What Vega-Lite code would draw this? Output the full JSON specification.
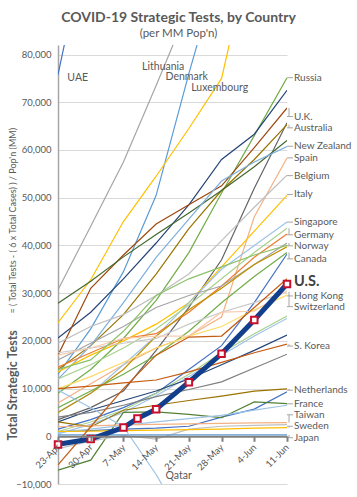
{
"$schema": "https://vega.github.io/schema/vega-lite/v6.json",
"width": 229, "height": 439,
"autosize": "none",
"padding": {"left": 58, "top": 45, "right": 70, "bottom": 13},
"background": "white",
"config": {"font": "Lato", "view": {"stroke": null}},
"title": {"text": "COVID-19 Strategic Tests, by Country", "subtitle": "(per MM Pop'n)", "fontSize": 14, "fontWeight": "bold", "color": "#595959", "subtitleFontSize": 11.5, "subtitleColor": "#595959", "subtitlePadding": 3, "anchor": "middle", "dx": 6, "offset": 6, "frame": "group"},
"datasets": {
"lines": [
{"c":"UAE","d":"2020-04-23","v":75800},{"c":"UAE","d":"2020-04-30","v":108000},{"c":"UAE","d":"2020-05-07","v":140000},{"c":"UAE","d":"2020-05-14","v":170000},{"c":"UAE","d":"2020-05-21","v":200000},{"c":"UAE","d":"2020-05-28","v":230000},{"c":"UAE","d":"2020-06-04","v":260000},{"c":"UAE","d":"2020-06-11","v":290000},
{"c":"Lithuania","d":"2020-04-23","v":30700},{"c":"Lithuania","d":"2020-04-30","v":44000},{"c":"Lithuania","d":"2020-05-07","v":57500},{"c":"Lithuania","d":"2020-05-14","v":73500},{"c":"Lithuania","d":"2020-05-21","v":90000},{"c":"Lithuania","d":"2020-05-28","v":105000},{"c":"Lithuania","d":"2020-06-04","v":120000},{"c":"Lithuania","d":"2020-06-11","v":135000},
{"c":"Denmark","d":"2020-04-23","v":13000},{"c":"Denmark","d":"2020-04-30","v":22500},{"c":"Denmark","d":"2020-05-07","v":34500},{"c":"Denmark","d":"2020-05-14","v":50500},{"c":"Denmark","d":"2020-05-21","v":76000},{"c":"Denmark","d":"2020-05-28","v":100000},{"c":"Denmark","d":"2020-06-04","v":125000},{"c":"Denmark","d":"2020-06-11","v":150000},
{"c":"Luxembourg","d":"2020-04-23","v":23800},{"c":"Luxembourg","d":"2020-04-30","v":32800},{"c":"Luxembourg","d":"2020-05-07","v":45000},{"c":"Luxembourg","d":"2020-05-14","v":54500},{"c":"Luxembourg","d":"2020-05-21","v":64500},{"c":"Luxembourg","d":"2020-05-28","v":75000},{"c":"Luxembourg","d":"2020-06-04","v":105000},{"c":"Luxembourg","d":"2020-06-11","v":130000},
{"c":"Russia","d":"2020-04-23","v":9000},{"c":"Russia","d":"2020-04-30","v":14000},{"c":"Russia","d":"2020-05-07","v":20500},{"c":"Russia","d":"2020-05-14","v":28500},{"c":"Russia","d":"2020-05-21","v":38500},{"c":"Russia","d":"2020-05-28","v":51000},{"c":"Russia","d":"2020-06-04","v":63000},{"c":"Russia","d":"2020-06-11","v":75150},
{"c":"L06","d":"2020-04-23","v":20600},{"c":"L06","d":"2020-04-30","v":26000},{"c":"L06","d":"2020-05-07","v":33000},{"c":"L06","d":"2020-05-14","v":40500},{"c":"L06","d":"2020-05-21","v":48500},{"c":"L06","d":"2020-05-28","v":58000},{"c":"L06","d":"2020-06-04","v":63300},{"c":"L06","d":"2020-06-11","v":72500},
{"c":"U.K.","d":"2020-04-23","v":17000},{"c":"U.K.","d":"2020-04-30","v":31000},{"c":"U.K.","d":"2020-05-07","v":38000},{"c":"U.K.","d":"2020-05-14","v":44500},{"c":"U.K.","d":"2020-05-21","v":48500},{"c":"U.K.","d":"2020-05-28","v":52500},{"c":"U.K.","d":"2020-06-04","v":60500},{"c":"U.K.","d":"2020-06-11","v":68800},
{"c":"L08","d":"2020-04-23","v":3500},{"c":"L08","d":"2020-04-30","v":6000},{"c":"L08","d":"2020-05-07","v":9500},{"c":"L08","d":"2020-05-14","v":18000},{"c":"L08","d":"2020-05-21","v":27000},{"c":"L08","d":"2020-05-28","v":37000},{"c":"L08","d":"2020-06-04","v":52000},{"c":"L08","d":"2020-06-11","v":65700},
{"c":"Australia","d":"2020-04-23","v":14000},{"c":"Australia","d":"2020-04-30","v":19000},{"c":"Australia","d":"2020-05-07","v":25500},{"c":"Australia","d":"2020-05-14","v":34000},{"c":"Australia","d":"2020-05-21","v":43500},{"c":"Australia","d":"2020-05-28","v":51500},{"c":"Australia","d":"2020-06-04","v":58000},{"c":"Australia","d":"2020-06-11","v":65300},
{"c":"L10","d":"2020-04-23","v":27900},{"c":"L10","d":"2020-04-30","v":32500},{"c":"L10","d":"2020-05-07","v":37600},{"c":"L10","d":"2020-05-14","v":42300},{"c":"L10","d":"2020-05-21","v":46800},{"c":"L10","d":"2020-05-28","v":51500},{"c":"L10","d":"2020-06-04","v":56500},{"c":"L10","d":"2020-06-11","v":62000},
{"c":"New Zealand","d":"2020-04-23","v":12000},{"c":"New Zealand","d":"2020-04-30","v":19000},{"c":"New Zealand","d":"2020-05-07","v":28000},{"c":"New Zealand","d":"2020-05-14","v":37500},{"c":"New Zealand","d":"2020-05-21","v":45500},{"c":"New Zealand","d":"2020-05-28","v":53500},{"c":"New Zealand","d":"2020-06-04","v":57500},{"c":"New Zealand","d":"2020-06-11","v":60700},
{"c":"Spain","d":"2020-04-23","v":7000},{"c":"Spain","d":"2020-04-30","v":11000},{"c":"Spain","d":"2020-05-07","v":15000},{"c":"Spain","d":"2020-05-14","v":18500},{"c":"Spain","d":"2020-05-21","v":21000},{"c":"Spain","d":"2020-05-28","v":25000},{"c":"Spain","d":"2020-06-04","v":46000},{"c":"Spain","d":"2020-06-11","v":58300},
{"c":"Belgium","d":"2020-04-23","v":19500},{"c":"Belgium","d":"2020-04-30","v":23000},{"c":"Belgium","d":"2020-05-07","v":25500},{"c":"Belgium","d":"2020-05-14","v":29500},{"c":"Belgium","d":"2020-05-21","v":34000},{"c":"Belgium","d":"2020-05-28","v":41000},{"c":"Belgium","d":"2020-06-04","v":48000},{"c":"Belgium","d":"2020-06-11","v":54700},
{"c":"Italy","d":"2020-04-23","v":13500},{"c":"Italy","d":"2020-04-30","v":17000},{"c":"Italy","d":"2020-05-07","v":20000},{"c":"Italy","d":"2020-05-14","v":23500},{"c":"Italy","d":"2020-05-21","v":28000},{"c":"Italy","d":"2020-05-28","v":35500},{"c":"Italy","d":"2020-06-04","v":43000},{"c":"Italy","d":"2020-06-11","v":50500},
{"c":"Singapore","d":"2020-04-23","v":5000},{"c":"Singapore","d":"2020-04-30","v":9000},{"c":"Singapore","d":"2020-05-07","v":15000},{"c":"Singapore","d":"2020-05-14","v":21000},{"c":"Singapore","d":"2020-05-21","v":28000},{"c":"Singapore","d":"2020-05-28","v":35000},{"c":"Singapore","d":"2020-06-04","v":40000},{"c":"Singapore","d":"2020-06-11","v":44900},
{"c":"Germany","d":"2020-04-23","v":12000},{"c":"Germany","d":"2020-04-30","v":15000},{"c":"Germany","d":"2020-05-07","v":18500},{"c":"Germany","d":"2020-05-14","v":22500},{"c":"Germany","d":"2020-05-21","v":27500},{"c":"Germany","d":"2020-05-28","v":33000},{"c":"Germany","d":"2020-06-04","v":38500},{"c":"Germany","d":"2020-06-11","v":43600},
{"c":"L17","d":"2020-04-23","v":14500},{"c":"L17","d":"2020-04-30","v":17500},{"c":"L17","d":"2020-05-07","v":20500},{"c":"L17","d":"2020-05-14","v":21500},{"c":"L17","d":"2020-05-21","v":26000},{"c":"L17","d":"2020-05-28","v":31500},{"c":"L17","d":"2020-06-04","v":37500},{"c":"L17","d":"2020-06-11","v":42400},
{"c":"Norway","d":"2020-04-23","v":16000},{"c":"Norway","d":"2020-04-30","v":19500},{"c":"Norway","d":"2020-05-07","v":23000},{"c":"Norway","d":"2020-05-14","v":27000},{"c":"Norway","d":"2020-05-21","v":29500},{"c":"Norway","d":"2020-05-28","v":31500},{"c":"Norway","d":"2020-06-04","v":36000},{"c":"Norway","d":"2020-06-11","v":40500},
{"c":"L19","d":"2020-04-23","v":5000},{"c":"L19","d":"2020-04-30","v":9000},{"c":"L19","d":"2020-05-07","v":14000},{"c":"L19","d":"2020-05-14","v":21000},{"c":"L19","d":"2020-05-21","v":26500},{"c":"L19","d":"2020-05-28","v":31000},{"c":"L19","d":"2020-06-04","v":36000},{"c":"L19","d":"2020-06-11","v":39700},
{"c":"Canada","d":"2020-04-23","v":6000},{"c":"Canada","d":"2020-04-30","v":9500},{"c":"Canada","d":"2020-05-07","v":13000},{"c":"Canada","d":"2020-05-14","v":17000},{"c":"Canada","d":"2020-05-21","v":22000},{"c":"Canada","d":"2020-05-28","v":28000},{"c":"Canada","d":"2020-06-04","v":33500},{"c":"Canada","d":"2020-06-11","v":38500},
{"c":"L21","d":"2020-04-23","v":1500},{"c":"L21","d":"2020-04-30","v":3500},{"c":"L21","d":"2020-05-07","v":6000},{"c":"L21","d":"2020-05-14","v":9000},{"c":"L21","d":"2020-05-21","v":14000},{"c":"L21","d":"2020-05-28","v":19000},{"c":"L21","d":"2020-06-04","v":28000},{"c":"L21","d":"2020-06-11","v":38200},
{"c":"Hong Kong","d":"2020-04-23","v":17500},{"c":"Hong Kong","d":"2020-04-30","v":18500},{"c":"Hong Kong","d":"2020-05-07","v":19500},{"c":"Hong Kong","d":"2020-05-14","v":20500},{"c":"Hong Kong","d":"2020-05-21","v":23500},{"c":"Hong Kong","d":"2020-05-28","v":26000},{"c":"Hong Kong","d":"2020-06-04","v":28000},{"c":"Hong Kong","d":"2020-06-11","v":30300},
{"c":"Switzerland","d":"2020-04-23","v":10000},{"c":"Switzerland","d":"2020-04-30","v":12500},{"c":"Switzerland","d":"2020-05-07","v":15500},{"c":"Switzerland","d":"2020-05-14","v":18500},{"c":"Switzerland","d":"2020-05-21","v":21000},{"c":"Switzerland","d":"2020-05-28","v":23000},{"c":"Switzerland","d":"2020-06-04","v":26500},{"c":"Switzerland","d":"2020-06-11","v":29600},
{"c":"L24","d":"2020-04-23","v":17000},{"c":"L24","d":"2020-04-30","v":18500},{"c":"L24","d":"2020-05-07","v":20500},{"c":"L24","d":"2020-05-14","v":21000},{"c":"L24","d":"2020-05-21","v":21000},{"c":"L24","d":"2020-05-28","v":26000},{"c":"L24","d":"2020-06-04","v":26200},{"c":"L24","d":"2020-06-11","v":30500},
{"c":"L25","d":"2020-04-23","v":1000},{"c":"L25","d":"2020-04-30","v":3000},{"c":"L25","d":"2020-05-07","v":5500},{"c":"L25","d":"2020-05-14","v":9000},{"c":"L25","d":"2020-05-21","v":13000},{"c":"L25","d":"2020-05-28","v":17500},{"c":"L25","d":"2020-06-04","v":21500},{"c":"L25","d":"2020-06-11","v":25200},
{"c":"L26","d":"2020-04-23","v":500},{"c":"L26","d":"2020-04-30","v":2500},{"c":"L26","d":"2020-05-07","v":5000},{"c":"L26","d":"2020-05-14","v":8500},{"c":"L26","d":"2020-05-21","v":12500},{"c":"L26","d":"2020-05-28","v":17000},{"c":"L26","d":"2020-06-04","v":21000},{"c":"L26","d":"2020-06-11","v":24700},
{"c":"L27","d":"2020-04-23","v":3000},{"c":"L27","d":"2020-04-30","v":5500},{"c":"L27","d":"2020-05-07","v":7500},{"c":"L27","d":"2020-05-14","v":9500},{"c":"L27","d":"2020-05-21","v":12000},{"c":"L27","d":"2020-05-28","v":15000},{"c":"L27","d":"2020-06-04","v":18000},{"c":"L27","d":"2020-06-11","v":21200},
{"c":"S. Korea","d":"2020-04-23","v":10000},{"c":"S. Korea","d":"2020-04-30","v":10500},{"c":"S. Korea","d":"2020-05-07","v":11200},{"c":"S. Korea","d":"2020-05-14","v":11800},{"c":"S. Korea","d":"2020-05-21","v":13500},{"c":"S. Korea","d":"2020-05-28","v":15500},{"c":"S. Korea","d":"2020-06-04","v":17500},{"c":"S. Korea","d":"2020-06-11","v":19300},
{"c":"L29","d":"2020-04-23","v":4000},{"c":"L29","d":"2020-04-30","v":5000},{"c":"L29","d":"2020-05-07","v":6500},{"c":"L29","d":"2020-05-14","v":8300},{"c":"L29","d":"2020-05-21","v":9800},{"c":"L29","d":"2020-05-28","v":11400},{"c":"L29","d":"2020-06-04","v":14300},{"c":"L29","d":"2020-06-11","v":17200},
{"c":"Netherlands","d":"2020-04-23","v":3000},{"c":"Netherlands","d":"2020-04-30","v":1960},{"c":"Netherlands","d":"2020-05-07","v":5460},{"c":"Netherlands","d":"2020-05-14","v":6500},{"c":"Netherlands","d":"2020-05-21","v":7500},{"c":"Netherlands","d":"2020-05-28","v":8400},{"c":"Netherlands","d":"2020-06-04","v":9450},{"c":"Netherlands","d":"2020-06-11","v":9940},
{"c":"L31","d":"2020-04-23","v":1000},{"c":"L31","d":"2020-04-30","v":1200},{"c":"L31","d":"2020-05-07","v":1500},{"c":"L31","d":"2020-05-14","v":1700},{"c":"L31","d":"2020-05-21","v":2100},{"c":"L31","d":"2020-05-28","v":4000},{"c":"L31","d":"2020-06-04","v":5700},{"c":"L31","d":"2020-06-11","v":9300},
{"c":"France","d":"2020-04-23","v":-7100},{"c":"France","d":"2020-04-30","v":-5000},{"c":"France","d":"2020-05-07","v":5000},{"c":"France","d":"2020-05-14","v":5100},{"c":"France","d":"2020-05-21","v":4600},{"c":"France","d":"2020-05-28","v":3900},{"c":"France","d":"2020-06-04","v":7200},{"c":"France","d":"2020-06-11","v":6850},
{"c":"L33","d":"2020-04-23","v":800},{"c":"L33","d":"2020-04-30","v":1500},{"c":"L33","d":"2020-05-07","v":2300},{"c":"L33","d":"2020-05-14","v":3000},{"c":"L33","d":"2020-05-21","v":3700},{"c":"L33","d":"2020-05-28","v":4400},{"c":"L33","d":"2020-06-04","v":5500},{"c":"L33","d":"2020-06-11","v":6500},
{"c":"Taiwan","d":"2020-04-23","v":2000},{"c":"Taiwan","d":"2020-04-30","v":2200},{"c":"Taiwan","d":"2020-05-07","v":2400},{"c":"Taiwan","d":"2020-05-14","v":2500},{"c":"Taiwan","d":"2020-05-21","v":2600},{"c":"Taiwan","d":"2020-05-28","v":2700},{"c":"Taiwan","d":"2020-06-04","v":2800},{"c":"Taiwan","d":"2020-06-11","v":2870},
{"c":"L35","d":"2020-04-23","v":-2600},{"c":"L35","d":"2020-04-30","v":-1000},{"c":"L35","d":"2020-05-07","v":200},{"c":"L35","d":"2020-05-14","v":-600},{"c":"L35","d":"2020-05-21","v":1500},{"c":"L35","d":"2020-05-28","v":2100},{"c":"L35","d":"2020-06-04","v":2300},{"c":"L35","d":"2020-06-11","v":2450},
{"c":"Sweden","d":"2020-04-23","v":1000},{"c":"Sweden","d":"2020-04-30","v":1100},{"c":"Sweden","d":"2020-05-07","v":1200},{"c":"Sweden","d":"2020-05-14","v":1300},{"c":"Sweden","d":"2020-05-21","v":1400},{"c":"Sweden","d":"2020-05-28","v":1500},{"c":"Sweden","d":"2020-06-04","v":1700},{"c":"Sweden","d":"2020-06-11","v":1830},
{"c":"Japan","d":"2020-04-23","v":300},{"c":"Japan","d":"2020-04-30","v":300},{"c":"Japan","d":"2020-05-07","v":300},{"c":"Japan","d":"2020-05-14","v":300},{"c":"Japan","d":"2020-05-21","v":300},{"c":"Japan","d":"2020-05-28","v":300},{"c":"Japan","d":"2020-06-04","v":300},{"c":"Japan","d":"2020-06-11","v":300},
{"c":"Qatar","d":"2020-04-23","v":9700},{"c":"Qatar","d":"2020-04-30","v":6000},{"c":"Qatar","d":"2020-05-07","v":2000},{"c":"Qatar","d":"2020-05-14","v":-8000},{"c":"Qatar","d":"2020-05-21","v":-20000},{"c":"Qatar","d":"2020-05-28","v":-30000},{"c":"Qatar","d":"2020-06-04","v":-40000},{"c":"Qatar","d":"2020-06-11","v":-50000},
{"c":"L39","d":"2020-04-23","v":-6000},{"c":"L39","d":"2020-04-30","v":2000},{"c":"L39","d":"2020-05-07","v":10000},{"c":"L39","d":"2020-05-14","v":17000},{"c":"L39","d":"2020-05-21","v":20800},{"c":"L39","d":"2020-05-28","v":21000},{"c":"L39","d":"2020-06-04","v":27000},{"c":"L39","d":"2020-06-11","v":33000},
{"c":"L40","d":"2020-04-23","v":14000},{"c":"L40","d":"2020-04-30","v":16000},{"c":"L40","d":"2020-05-07","v":22000},{"c":"L40","d":"2020-05-14","v":29500},{"c":"L40","d":"2020-05-21","v":33000},{"c":"L40","d":"2020-05-28","v":35500},{"c":"L40","d":"2020-06-04","v":38000},{"c":"L40","d":"2020-06-11","v":40000}
],
"us": [
{"d":"2020-04-23","v":-1700},{"d":"2020-04-30","v":-570},{"d":"2020-05-07","v":1830},{"d":"2020-05-10","v":3720},{"d":"2020-05-14","v":5670},{"d":"2020-05-21","v":11340},{"d":"2020-05-28","v":17290},{"d":"2020-06-04","v":24370},{"d":"2020-06-11","v":31930}
],
"labels": [
{"t":"Russia","d":"2020-06-11","e":75150,"l":75150},
{"t":"U.K.","d":"2020-06-11","e":68800,"l":67000},
{"t":"Australia","d":"2020-06-11","e":65300,"l":64640},
{"t":"New Zealand","d":"2020-06-11","e":60700,"l":60780},
{"t":"Spain","d":"2020-06-11","e":58300,"l":58340},
{"t":"Belgium","d":"2020-06-11","e":54700,"l":54620},
{"t":"Italy","d":"2020-06-11","e":50500,"l":50690},
{"t":"Singapore","d":"2020-06-11","e":44900,"l":44890},
{"t":"Germany","d":"2020-06-11","e":43600,"l":42230},
{"t":"Norway","d":"2020-06-11","e":40500,"l":39920},
{"t":"Canada","d":"2020-06-11","e":38500,"l":37180},
{"t":"Hong Kong","d":"2020-06-11","e":30300,"l":29410},
{"t":"Switzerland","d":"2020-06-11","e":29600,"l":27170},
{"t":"S. Korea","d":"2020-06-11","e":19300,"l":18910},
{"t":"Netherlands","d":"2020-06-11","e":9940,"l":9660},
{"t":"France","d":"2020-06-11","e":6850,"l":6800},
{"t":"Taiwan","d":"2020-06-11","e":2870,"l":4500},
{"t":"Sweden","d":"2020-06-11","e":1830,"l":2100},
{"t":"Japan","d":"2020-06-11","e":300,"l":-300}
],
"uslabel": [{"t":"U.S.","d":"2020-06-11","l":32280}],
"notes": [
{"t":"UAE","d":"2020-04-25T00:00:00Z","v":75150},
{"t":"Lithuania","d":"2020-05-11T00:00:00Z","v":77460},
{"t":"Denmark","d":"2020-05-16T00:00:00Z","v":75360},
{"t":"Luxembourg","d":"2020-05-21T12:00:00Z","v":72900},
{"t":"Qatar","d":"2020-05-16T00:00:00Z","v":-8340}
]
},
"layer": [
{"data": {"name": "lines"},
 "mark": {"type": "line", "strokeWidth": 1.2, "clip": true},
 "encoding": {
  "x": {"field": "d", "type": "temporal",
        "scale": {"type": "utc", "domain": [{"year": 2020, "month": 4, "date": 23, "utc": true}, {"year": 2020, "month": 6, "date": 11, "utc": true}]},
        "axis": {"orient": "bottom", "title": null, "values": [{"year": 2020, "month": 4, "date": 23, "utc": true}, {"year": 2020, "month": 4, "date": 30, "utc": true}, {"year": 2020, "month": 5, "date": 7, "utc": true}, {"year": 2020, "month": 5, "date": 14, "utc": true}, {"year": 2020, "month": 5, "date": 21, "utc": true}, {"year": 2020, "month": 5, "date": 28, "utc": true}, {"year": 2020, "month": 6, "date": 4, "utc": true}, {"year": 2020, "month": 6, "date": 11, "utc": true}],
                 "format": "%-d-%b", "labelAngle": -45, "labelAlign": "right", "labelBaseline": "middle", "labelFontSize": 9.5, "labelColor": "#595959", "labelPadding": 4, "labelFlush": false, "labelOverlap": false,
                 "offset": -47.7, "domainColor": "#808080", "domainWidth": 2, "tickColor": "#808080", "tickWidth": 2, "tickSize": 5, "grid": false, "zindex": 1}},
  "y": {"field": "v", "type": "quantitative",
        "scale": {"domain": [-10000, 82000], "nice": false, "zero": false},
        "axis": {"values": [-10000, 0, 10000, 20000, 30000, 40000, 50000, 60000, 70000, 80000], "format": ",d", "labelFontSize": 9.5, "labelColor": "#595959", "ticks": false, "labelPadding": 7,
                 "domainColor": "#A6A6A6", "domainWidth": 1.5, "grid": true, "gridColor": "#D9D9D9", "gridWidth": 1,
                 "title": "= ( Total Tests - ( 6 x Total Cases) ) / Pop'n (MM)", "titleFontSize": 9, "titleFontWeight": "normal", "titleColor": "#595959",
                 "titleAngle": 270, "titleAlign": "left", "titleBaseline": "middle", "titleX": -46, "titleY": 268}},
  "color": {"field": "c", "type": "nominal", "legend": null,
            "scale": {"domain": ["UAE","Lithuania","Denmark","Luxembourg","Russia","L06","U.K.","L08","Australia","L10","New Zealand","Spain","Belgium","Italy","Singapore","Germany","L17","Norway","L19","Canada","L21","Hong Kong","Switzerland","L24","L25","L26","L27","S. Korea","L29","Netherlands","L31","France","L33","Taiwan","L35","Sweden","Japan","Qatar","L39","L40"],
                      "range": ["#4472C4","#A5A5A5","#5B9BD5","#FFC000","#70AD47","#264478","#9E480E","#636363","#997300","#43682B","#7CAFDD","#F4B183","#BFBFBF","#FFC000","#9DC3E6","#A9D18E","#ED7D31","#A5A5A5","#BF9000","#70AD47","#4472C4","#C9C9C9","#FFD966","#F8CBAD","#A9D18E","#9DC3E6","#264478","#C55A11","#7F7F7F","#997300","#4472C4","#548235","#9DC3E6","#F4B183","#BFBFBF","#FFC000","#5B9BD5","#9DC3E6","#C55A11","#8CC168"]}}
 }},
{"data": {"name": "us"},
 "mark": {"type": "line", "strokeWidth": 5, "color": "#123F8C", "clip": true},
 "encoding": {"x": {"field": "d", "type": "temporal", "axis": null}, "y": {"field": "v", "type": "quantitative", "axis": null}}},
{"data": {"name": "us"},
 "mark": {"type": "point", "shape": "square", "size": 42, "fill": "white", "stroke": "#C8102E", "strokeWidth": 2, "opacity": 1},
 "encoding": {"x": {"field": "d", "type": "temporal", "axis": null},
              "y": {"field": "v", "type": "quantitative",
                    "axis": {"orient": "left", "domain": false, "labels": false, "ticks": false, "grid": false,
                             "title": "Total Strategic Tests", "titleFontSize": 12.5, "titleFontWeight": "bold", "titleColor": "#595959",
                             "titleAngle": 270, "titleAlign": "left", "titleBaseline": "middle", "titleX": -46, "titleY": 395}}}},
{"data": {"name": "labels"},
 "mark": {"type": "rule", "color": "#A6A6A6", "strokeWidth": 1, "xOffset": 2, "x2Offset": 2},
 "encoding": {"x": {"field": "d", "type": "temporal", "axis": null}, "y": {"field": "e", "type": "quantitative", "axis": null}, "y2": {"field": "l"}}},
{"data": {"name": "labels"},
 "mark": {"type": "rule", "color": "#A6A6A6", "strokeWidth": 1, "xOffset": 0, "x2Offset": 6},
 "encoding": {"x": {"field": "d", "type": "temporal", "axis": null}, "x2": {"field": "d"}, "y": {"field": "l", "type": "quantitative", "axis": null}}},
{"data": {"name": "labels"},
 "mark": {"type": "text", "align": "left", "baseline": "middle", "dx": 7, "fontSize": 10, "color": "#595959"},
 "encoding": {"x": {"field": "d", "type": "temporal", "axis": null}, "y": {"field": "l", "type": "quantitative", "axis": null}, "text": {"field": "t"}}},
{"data": {"name": "uslabel"},
 "mark": {"type": "text", "align": "left", "baseline": "middle", "dx": 7, "fontSize": 14.5, "fontWeight": "bold", "color": "#404040"},
 "encoding": {"x": {"field": "d", "type": "temporal", "axis": null}, "y": {"field": "l", "type": "quantitative", "axis": null}, "text": {"field": "t"}}},
{"data": {"name": "notes"},
 "mark": {"type": "text", "align": "left", "baseline": "middle", "fontSize": 10.5, "color": "#595959"},
 "encoding": {"x": {"field": "d", "type": "temporal", "axis": null}, "y": {"field": "v", "type": "quantitative", "axis": null}, "text": {"field": "t"}}}
],
"resolve": {"axis": {"y": "independent", "x": "independent"}}
}
